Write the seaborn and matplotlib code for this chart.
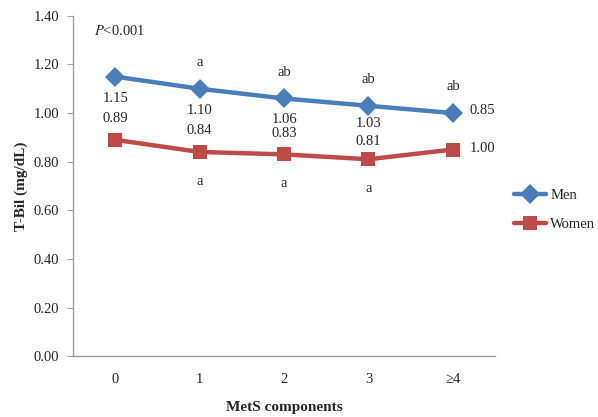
import matplotlib
matplotlib.use('Agg')
import matplotlib.pyplot as plt
import seaborn as sns
import pandas as pd

# data
categories = ['0', '1', '2', '3', '\u22654']
men = [1.15, 1.10, 1.06, 1.03, 1.00]
women = [0.89, 0.84, 0.83, 0.81, 0.85]
# value labels as printed in the original (last two are swapped there)
men_labels = ['1.15', '1.10', '1.06', '1.03', '0.85']
women_labels = ['0.89', '0.84', '0.83', '0.81', '1.00']
men_letters = ['', 'a', 'ab', 'ab', 'ab']
women_letters = ['', 'a', 'a', 'a', '']

sns.set_style('white')
plt.rcParams['font.family'] = ['Liberation Serif', 'DejaVu Serif']
plt.rcParams['mathtext.fontset'] = 'stix'

df = pd.DataFrame({
    'x': list(range(len(categories))) * 2,
    'value': men + women,
    'sex': ['Men'] * len(men) + ['Women'] * len(women),
})

fig = plt.figure(figsize=(5.98, 4.17), dpi=100)
ax = fig.add_axes([0.122, 0.146, 0.706, 0.816])

palette = {'Men': '#4a7ebb', 'Women': '#be4b48'}
sns.lineplot(data=df, x='x', y='value', hue='sex', style='sex',
             markers={'Men': 'D', 'Women': 's'}, dashes=False,
             palette=palette, linewidth=3.2, markersize=10,
             markeredgewidth=0, ax=ax)

# vertical offset of value labels (points); tighter where the lines come close
label_off = [15.5, 15.5, 15.0, 12.5]

for i in range(len(categories)):
    if i < len(categories) - 1:
        ax.annotate(men_labels[i], (i, men[i]), xytext=(0, -label_off[i]), textcoords='offset points',
                    ha='center', va='center', fontsize=10.5)
        ax.annotate(women_labels[i], (i, women[i]), xytext=(0, label_off[i]), textcoords='offset points',
                    ha='center', va='center', fontsize=10.5)
    else:
        ax.annotate(men_labels[i], (i, men[i]), xytext=(12, 2), textcoords='offset points',
                    ha='left', va='center', fontsize=10.5)
        ax.annotate(women_labels[i], (i, women[i]), xytext=(12, 1), textcoords='offset points',
                    ha='left', va='center', fontsize=10.5)
    if men_letters[i]:
        ax.annotate(men_letters[i], (i, men[i]), xytext=(0, 19), textcoords='offset points',
                    ha='center', va='center', fontsize=10.5)
    if women_letters[i]:
        ax.annotate(women_letters[i], (i, women[i]), xytext=(0, -21), textcoords='offset points',
                    ha='center', va='center', fontsize=10.5)

ax.text(0.05, 0.955, '$\\it{P}$<0.001', transform=ax.transAxes, fontsize=10.5,
        ha='left', va='center')

ax.set_xlim(-0.5, len(categories) - 0.5)
ax.set_ylim(0, 1.4)
ax.set_yticks([0, 0.2, 0.4, 0.6, 0.8, 1.0, 1.2, 1.4])
ax.set_yticklabels(['%.2f' % v for v in ax.get_yticks()], fontsize=10.5)
ax.set_xticks(range(len(categories)))
ax.set_xticklabels(categories, fontsize=10.5)
ax.tick_params(axis='y', length=4, color='#a0a0a0', left=True, pad=6)
ax.tick_params(axis='x', length=0, pad=12)

for s in ['top', 'right']:
    ax.spines[s].set_visible(False)
for s in ['left', 'bottom']:
    ax.spines[s].set_color('#a0a0a0')
    ax.spines[s].set_linewidth(1)

ax.set_xlabel('MetS components', fontsize=11, fontweight='bold', labelpad=11)
ax.set_ylabel('T-Bil (mg/dL)', fontsize=11, fontweight='bold', labelpad=4)

leg = ax.legend(loc='center left', bbox_to_anchor=(1.02, 0.43), frameon=False,
                fontsize=10.5, handlelength=2.2, handletextpad=0.3,
                labelspacing=1.1, borderaxespad=0.3)

fig.savefig('out.png', dpi=100)
